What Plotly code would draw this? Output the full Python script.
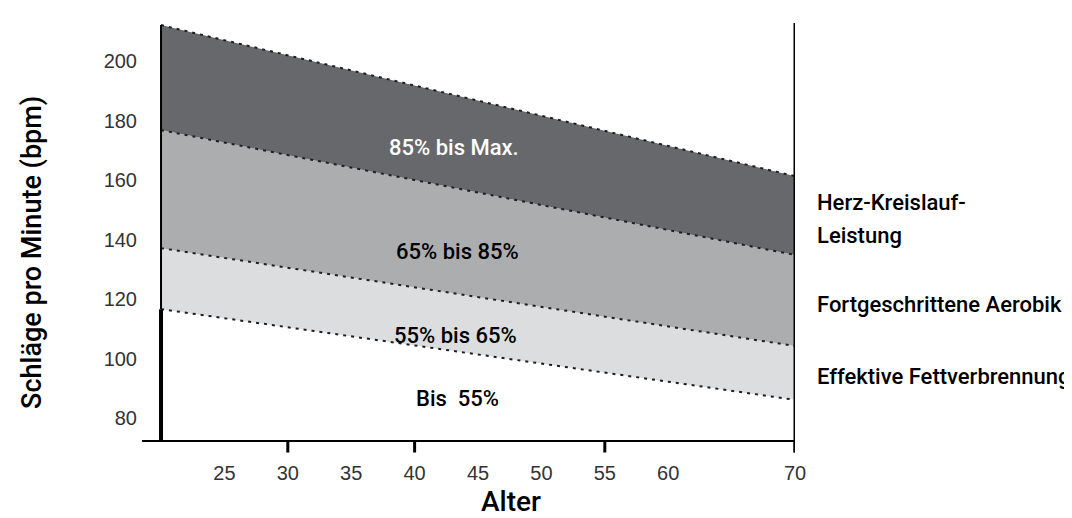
import plotly.graph_objects as go

# ---- data ----
ages = [20, 70]
line_max = [212.1, 161.3]     # top of dark band
line_85 = [176.8, 134.8]
line_65 = [137.1, 104.2]
line_55 = [116.6, 86.1]

x_tick_vals = [25, 30, 35, 40, 45, 50, 55, 60, 70]
x_tick_text = ["25", "30", "35", "40", "45", "50", "55", "60", "70"]
x_tick_marks = [30, 40, 55, 70]
y_tick_vals = [80, 100, 120, 140, 160, 180, 200]

band_labels = ["85% bis Max.", "65% bis 85%", "55% bis 65%", "Bis  55%"]
band_label_age = [43.1, 43.4, 43.2, 43.4]
band_label_bpm = [170.8, 136.1, 107.9, 86.7]
band_label_color = ["white", "black", "black", "black"]

zone_names = ["Herz-Kreislauf-", "Leistung", "Fortgeschrittene Aerobik", "Effektive Fettverbrennung"]
zone_bpm = [152.3, 141.2, 118.0, 94.1]

FONT = "Roboto, Liberation Sans, sans-serif"
TICKFONT = "Liberation Sans, Arial, sans-serif"
DARK = "#67686c"
MID = "#acadaf"
LIGHT = "#dcdddf"
DASH = dict(color="#1e1e1e", width=2, dash="3px,5px")

fig = go.Figure()
fig.add_trace(go.Scatter(x=ages, y=line_55, mode="lines", line=DASH, hoverinfo="skip"))
fig.add_trace(go.Scatter(x=ages, y=line_65, mode="lines", line=DASH, fill="tonexty",
                         fillcolor=LIGHT, hoverinfo="skip"))
fig.add_trace(go.Scatter(x=ages, y=line_85, mode="lines", line=DASH, fill="tonexty",
                         fillcolor=MID, hoverinfo="skip"))
fig.add_trace(go.Scatter(x=ages, y=line_max, mode="lines", line=DASH, fill="tonexty",
                         fillcolor=DARK, hoverinfo="skip"))

# left border: thin along the zones, thick below the lowest zone
fig.add_shape(type="line", xref="x", yref="y", x0=ages[0], x1=ages[0], y0=line_55[0], y1=line_max[0],
              line=dict(color="black", width=2), layer="above")
fig.add_shape(type="line", xref="x", yref="y", x0=ages[0], x1=ages[0], y0=72.6, y1=line_55[0],
              line=dict(color="black", width=4), layer="above")
# right border incl. tick
fig.add_shape(type="line", xref="x", yref="paper", x0=ages[-1], x1=ages[-1], y0=-0.03, y1=1,
              line=dict(color="black", width=3), layer="above")
for t in x_tick_marks:
    fig.add_shape(type="line", xref="x", yref="paper", x0=t, x1=t, y0=0, y1=-0.03,
                  line=dict(color="black", width=3), layer="above")

for txt, a, b, c in zip(band_labels, band_label_age, band_label_bpm, band_label_color):
    fig.add_annotation(x=a, y=b, xref="x", yref="y", text=txt, showarrow=False,
                       font=dict(family=FONT, size=22, color=c, weight=500))

for txt, b in zip(zone_names, zone_bpm):
    fig.add_annotation(x=1.0306, y=b, xref="paper", yref="y", text=txt, showarrow=False,
                       xanchor="left", yanchor="middle",
                       font=dict(family=FONT, size=22, color="black", weight=500))

fig.add_annotation(x=-0.1685, y=0.451, xref="paper", yref="paper", text="Schläge pro Minute (bpm)",
                   showarrow=False, textangle=-90, xanchor="center", yanchor="middle",
                   font=dict(family=FONT, size=27, color="black", weight=500))
fig.add_annotation(x=0.565, y=-0.148, xref="paper", yref="paper", text="Alter",
                   showarrow=False, xanchor="center", yanchor="middle",
                   font=dict(family=FONT, size=28, color="black", weight=500))

fig.update_layout(
    width=1072, height=518,
    margin=dict(l=134, r=285, t=15, b=86),
    paper_bgcolor="white", plot_bgcolor="white",
    showlegend=False,
    xaxis=dict(range=[18.5, 70], tickvals=x_tick_vals, ticktext=x_tick_text, ticks="",
               showgrid=False, zeroline=False, showline=True, linecolor="black", linewidth=2,
               ticklabelstandoff=14,
               tickfont=dict(family=TICKFONT, size=20, color="#333")),
    yaxis=dict(range=[72.6, 212.8], tickvals=y_tick_vals, ticks="", showgrid=False,
               zeroline=False, showline=False, ticklabelstandoff=4,
               tickfont=dict(family=TICKFONT, size=20, color="#333")),
)

fig.write_html("out.html")
